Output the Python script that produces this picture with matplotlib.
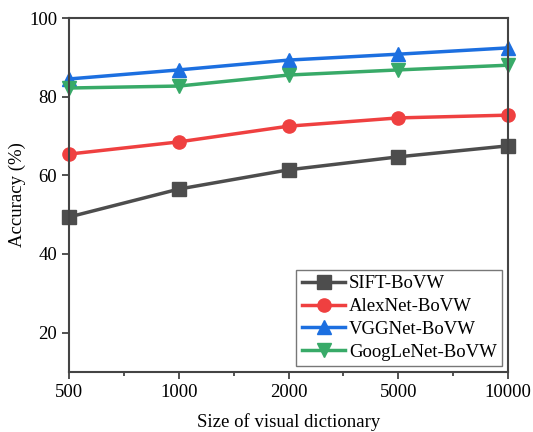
import matplotlib.pyplot as plt
import numpy as np
from matplotlib.ticker import MultipleLocator

plt.rcParams["font.family"] = "Liberation Serif"

sizes = ["500", "1000", "2000", "5000", "10000"]
sift = [49.4, 56.5, 61.4, 64.7, 67.5]
alexnet = [65.4, 68.5, 72.5, 74.6, 75.3]
vggnet = [84.5, 86.8, 89.3, 90.8, 92.4]
googlenet = [82.2, 82.7, 85.5, 86.8, 88.0]

series = [
    ("SIFT-BoVW", sift, "#4d4d4d", "s"),
    ("AlexNet-BoVW", alexnet, "#ef4040", "o"),
    ("VGGNet-BoVW", vggnet, "#1c6fe0", "^"),
    ("GoogLeNet-BoVW", googlenet, "#38aa68", "v"),
]

fig = plt.figure(figsize=(5.33, 4.32), dpi=100)
ax = fig.add_axes([69 / 533, 1 - 372 / 432, (508 - 69) / 533, (372 - 18) / 432])

x = np.arange(len(sizes))
for label, vals, color, marker in series:
    ax.plot(x, vals, color=color, marker=marker, markersize=9.5, linewidth=2.5, label=label, clip_on=False)

ax.set_xlim(0, len(sizes) - 1)
ax.set_ylim(10, 100)
ax.set_xticks(x)
ax.set_xticklabels(sizes)
ax.xaxis.set_minor_locator(MultipleLocator(0.5))
ax.set_yticks([20, 40, 60, 80, 100])
ax.tick_params(axis="both", which="major", direction="out", length=5, width=1.2, labelsize=13.5, colors="#333333", labelcolor="black")
ax.tick_params(axis="x", which="minor", direction="out", length=3, width=1.2, colors="#333333")
for s in ax.spines.values():
    s.set_linewidth(1.5)
    s.set_color("#444444")

ax.set_xlabel("Size of visual dictionary", fontsize=13.5, labelpad=9)
ax.set_ylabel("Accuracy (%)", fontsize=13.5, labelpad=2)

leg = ax.legend(loc="lower right", fontsize=13.5, fancybox=False, edgecolor="#555555",
                handlelength=2.3, handletextpad=0.2, borderpad=0.3, labelspacing=0.3,
                borderaxespad=0.3)
leg.get_frame().set_linewidth(1.0)

fig.savefig("out.png", dpi=100)
